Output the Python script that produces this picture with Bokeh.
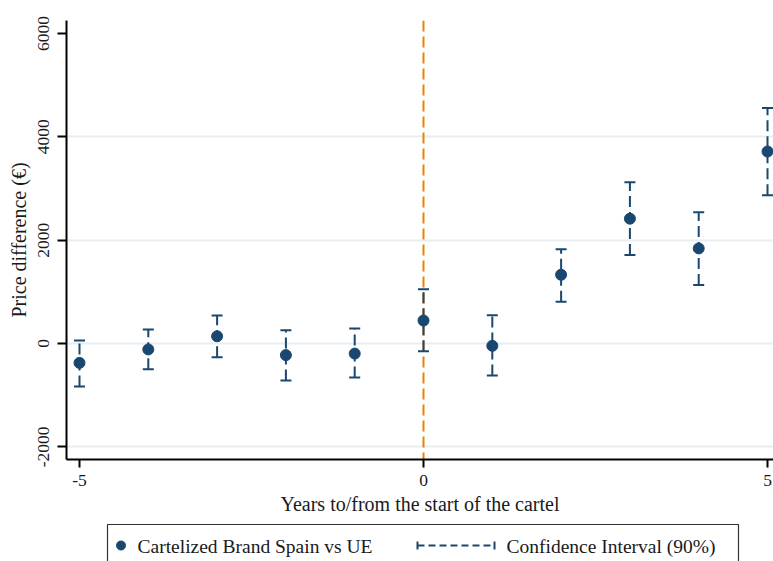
from bokeh.plotting import figure
from bokeh.layouts import column
from bokeh.models import (ColumnDataSource, Range1d, FixedTicker, Span,
                          CustomJSTickFormatter)
from bokeh.core.properties import value
from bokeh.embed import file_html
from bokeh.resources import INLINE

# Event-study estimates: price difference of the cartelized brand (Spain vs UE)
years = [-5, -4, -3, -2, -1, 0, 1, 2, 3, 4, 5]
estimate = [-375, -115, 140, -225, -195, 445, -45, 1330, 2415, 1840, 3715]
ci_lower = [-830, -500, -265, -715, -660, -150, -620, 810, 1710, 1130, 2870]
ci_upper = [60, 270, 540, 255, 290, 1050, 545, 1825, 3120, 2540, 4555]

x_ticks = [-5, 0, 5]
y_ticks = [-2000, 0, 2000, 4000, 6000]
grid_ticks = [-2000, 0, 2000, 4000]
cartel_start = 0

NAVY = "#1A476F"
ORANGE = "#E5820A"
GRID = "#E8EEF1"
FONT = "Liberation Serif"
TEXT = "#1a1a1a"

src = ColumnDataSource(dict(x=years, y=estimate, lo=ci_lower, hi=ci_upper))

p = figure(width=773, height=520, output_backend="svg", toolbar_location=None,
           x_range=Range1d(-5.189, 5.087), y_range=Range1d(-2245, 6250),
           min_border_left=66, min_border_right=0, min_border_top=20,
           min_border_bottom=61)
p.outline_line_color = None
p.background_fill_color = "white"
p.border_fill_color = "white"

# grid
p.xgrid.visible = False
p.ygrid.ticker = FixedTicker(ticks=grid_ticks)
p.ygrid.grid_line_color = GRID
p.ygrid.grid_line_width = 2

# start of the cartel
p.add_layout(Span(location=cartel_start, dimension="height", line_color=ORANGE,
                  line_width=2, line_dash="11 5", level="underlay"))

# confidence intervals: dashed stems with flat caps
p.segment(x0="x", y0="lo", x1="x", y1="hi", source=src, line_color=NAVY,
          line_width=2, line_dash="11 5")
p.scatter(x="x", y="hi", source=src, marker="dash", size=11, line_color=NAVY,
          line_width=2)
p.scatter(x="x", y="lo", source=src, marker="dash", size=11, line_color=NAVY,
          line_width=2)
# point estimates
p.scatter(x="x", y="y", source=src, marker="circle", size=11, fill_color=NAVY,
          line_color=NAVY)

plain_int = CustomJSTickFormatter(code="return tick.toFixed(0);")

for ax in (p.xaxis[0], p.yaxis[0]):
    ax.axis_line_color = "black"
    ax.axis_line_width = 2
    ax.major_tick_line_color = "black"
    ax.major_tick_line_width = 2
    ax.major_tick_in = 0
    ax.major_tick_out = 8
    ax.minor_tick_line_color = None
    ax.major_label_text_font = FONT
    ax.major_label_text_font_size = "17.5px"
    ax.major_label_text_color = TEXT
    ax.axis_label_text_font = FONT
    ax.axis_label_text_font_size = "20px"
    ax.axis_label_text_font_style = "normal"
    ax.axis_label_text_color = TEXT
    ax.formatter = plain_int

p.xaxis.ticker = FixedTicker(ticks=x_ticks)
p.xaxis.axis_label = "Years to/from the start of the cartel"
p.xaxis.major_label_standoff = 7
p.xaxis.axis_label_standoff = 4

p.yaxis.ticker = FixedTicker(ticks=y_ticks)
p.yaxis.axis_label = "Price difference (€)"
p.yaxis.major_label_orientation = "vertical"
p.yaxis.major_label_standoff = 8
p.yaxis.axis_label_standoff = 6
p.yaxis.major_tick_out = 9

# legend strip below the plot; its frame lines up with the plot frame,
# so the x range is expressed in page pixels from 66 to 773
leg = figure(width=773, height=41, output_backend="svg", toolbar_location=None,
             x_range=Range1d(66, 773), y_range=Range1d(0, 41),
             min_border=0, min_border_left=0, min_border_right=0,
             min_border_top=0, min_border_bottom=0)
leg.axis.visible = False
leg.grid.visible = False
leg.outline_line_color = None
leg.quad(left=[107], right=[738], bottom=[-6], top=[37], fill_color=None,
         line_color="#333333", line_width=1.2)
leg.scatter(x=[120.5], y=[16], marker="circle", size=9, fill_color=NAVY,
            line_color=NAVY)
leg.text(x=[137], y=[15], text=["Cartelized Brand Spain vs UE"],
         text_font=value(FONT), text_font_size="19.5px", text_color=TEXT,
         text_baseline="middle")
leg.segment(x0=[417], y0=[16], x1=[494], y1=[16], line_color=NAVY,
            line_width=2, line_dash="7 4")
leg.segment(x0=[417, 494], y0=[12, 12], x1=[417, 494], y1=[20, 20],
            line_color=NAVY, line_width=2)
leg.text(x=[506], y=[15], text=["Confidence Interval (90%)"],
         text_font=value(FONT), text_font_size="19.5px", text_color=TEXT,
         text_baseline="middle")

layout = column(p, leg, spacing=0)
open("out.html", "w").write(file_html(layout, INLINE))
